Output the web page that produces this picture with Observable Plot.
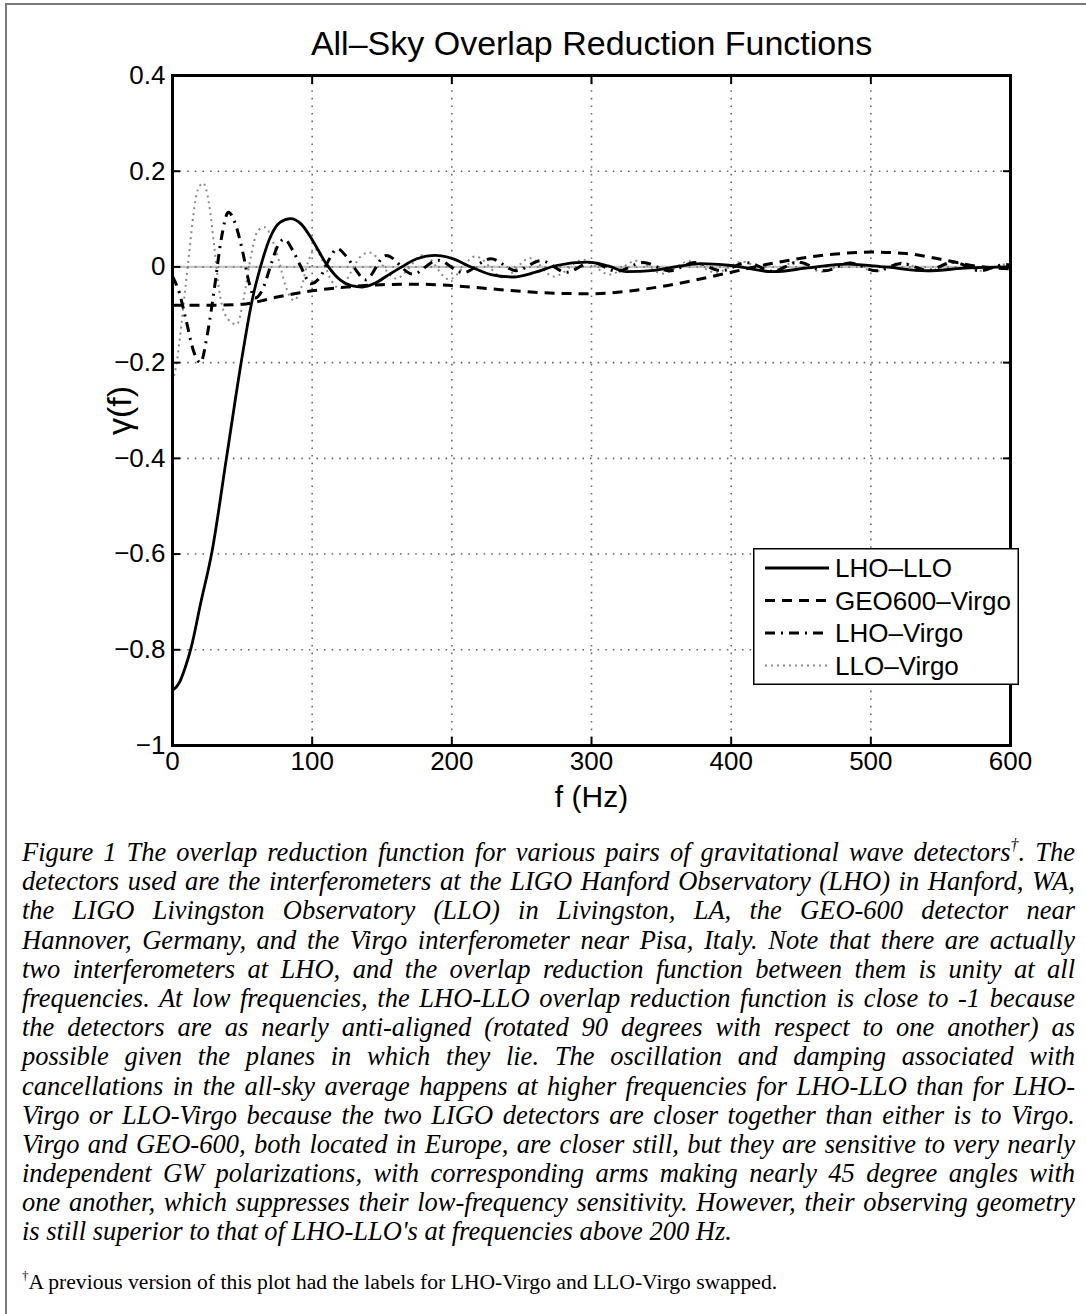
<!DOCTYPE html>
<html>
<head>
<meta charset="utf-8">
<script src="https://cdn.jsdelivr.net/npm/d3@7"></script>
<script src="https://cdn.jsdelivr.net/npm/@observablehq/plot@0.6"></script>
<style>
html, body { margin: 0; padding: 0; background: #fff; }
#page { position: relative; width: 1086px; height: 1314px; overflow: hidden; background: #fff; }
#border { position: absolute; left: 5px; top: 3px; width: 1200px; height: 1400px; border-left: 2px solid #7a7a7a; border-top: 2px solid #7a7a7a; }
#chart { position: absolute; left: 0; top: 0; }
#legend { position: absolute; left: 753px; top: 548px; }
#caption { position: absolute; left: 22px; top: 838px; width: 1053px; font-family: "Liberation Serif", serif; font-style: italic; font-size: 26.5px; line-height: 29.2px; color: #000; }
#caption .ln { white-space: nowrap; height: 29.2px; }
#caption sup, #foot sup { font-size: 60%; line-height: 0; vertical-align: 0.7em; }
#foot { position: absolute; left: 22px; top: 1270px; font-family: "Liberation Serif", serif; font-size: 21.6px; color: #000; white-space: nowrap; }
</style>
</head>
<body>
<div id="page">
  <div id="border"></div>
  <div id="chart"></div>
  <div id="legend"></div>
  <div id="caption"></div>
  <div id="foot"></div>
</div>
<script>
// ---------------- data ----------------
const chartTitle = "All\u2013Sky Overlap Reduction Functions";
const xLabel = "f (Hz)";
const yLabel = "\u03b3(f)";
const xTicks = [0, 100, 200, 300, 400, 500, 600];
const yTicks = [0.4, 0.2, 0, -0.2, -0.4, -0.6, -0.8, -1];

const seriesNames = ["LHO\u2013LLO", "GEO600\u2013Virgo", "LHO\u2013Virgo", "LLO\u2013Virgo"];

const lhoLloF = [0, 5, 9, 13.4, 20, 28.4, 38.7, 49.2, 57, 63, 70, 77, 84.5, 92, 100, 110, 120, 128, 136, 145, 155, 163, 175, 188, 200, 213, 228, 244, 260, 275, 297, 312, 325, 345, 364, 378, 400, 430, 455, 483, 510, 540, 570, 600];
const lhoLloG = [-0.885, -0.868, -0.838, -0.795, -0.705, -0.593, -0.398, -0.199, -0.07, 0.0, 0.062, 0.093, 0.101, 0.09, 0.057, 0.007, -0.027, -0.039, -0.042, -0.034, -0.016, -0.002, 0.017, 0.024, 0.018, 0.001, -0.016, -0.021, -0.011, 0.003, 0.010, 0.002, -0.010, -0.007, 0.002, 0.007, 0.003, -0.010, -0.002, 0.006, 0.0, -0.008, -0.002, 0.0];

const geoVirgoF = [0, 25, 50, 62, 75, 100, 125, 150, 175, 200, 225, 250, 275, 300, 325, 350, 375, 400, 425, 450, 475, 500, 525, 550, 575, 600];
const geoVirgoG = [-0.08, -0.08, -0.078, -0.072, -0.063, -0.05, -0.042, -0.037, -0.036, -0.039, -0.045, -0.051, -0.055, -0.056, -0.051, -0.041, -0.027, -0.011, 0.005, 0.018, 0.027, 0.031, 0.028, 0.016, 0.002, -0.004];

const lhoVirgoF = [0, 5, 10, 15, 20, 25, 30, 35, 40, 45, 50, 55, 59, 64, 70, 75, 80, 86, 92, 99, 106, 112, 118, 125, 131, 138, 153, 172, 190, 208, 228, 246, 264, 282, 300, 318, 337, 356, 374, 393, 411, 430, 448, 467, 485, 504, 522, 541, 559, 578, 596, 600];
const lhoVirgoG = [-0.02, -0.055, -0.115, -0.175, -0.2, -0.14, -0.045, 0.06, 0.114, 0.09, 0.035, -0.035, -0.065, -0.05, 0.0, 0.042, 0.058, 0.035, 0.0, -0.035, -0.02, 0.015, 0.038, 0.02, -0.005, -0.027, 0.024, -0.015, 0.014, -0.012, 0.017, -0.008, 0.013, -0.011, 0.01, -0.009, 0.009, -0.008, 0.009, -0.008, 0.009, -0.009, 0.01, -0.008, 0.008, -0.008, 0.007, -0.007, 0.01, -0.008, 0.005, 0.003];

const lloVirgoF = [0, 3, 6, 9, 12, 15, 18, 22, 26, 30, 34, 40, 46, 51, 56, 61, 66, 71, 76, 81, 87, 92, 97, 102, 108, 114, 120, 127, 134, 141, 160, 180, 198, 217, 237, 256, 273, 294, 313, 332, 351, 370, 389, 408, 427, 446, 465, 484, 503, 522, 541, 560, 579, 598, 600];
const lloVirgoG = [-0.24, -0.2, -0.13, -0.05, 0.03, 0.11, 0.16, 0.175, 0.135, 0.04, -0.06, -0.11, -0.12, -0.065, 0.02, 0.075, 0.083, 0.06, 0.015, -0.04, -0.07, -0.045, 0.01, 0.037, 0.01, -0.03, -0.045, -0.015, 0.02, 0.03, -0.024, 0.025, -0.026, 0.022, -0.022, 0.018, -0.02, 0.015, -0.016, 0.013, -0.014, 0.012, -0.012, 0.011, -0.011, 0.01, -0.01, 0.01, -0.009, 0.009, -0.009, 0.009, -0.008, 0.006, 0.005];

const captionLines = [
  "Figure 1 The overlap reduction function for various pairs of gravitational wave detectors\u2020.  The",
  "detectors used are the interferometers at the LIGO Hanford Observatory (LHO) in Hanford, WA,",
  "the LIGO Livingston Observatory (LLO) in Livingston, LA, the GEO-600 detector near",
  "Hannover, Germany, and the Virgo interferometer near Pisa, Italy. Note that there are actually",
  "two interferometers at LHO, and the overlap reduction function between them is unity at all",
  "frequencies. At low frequencies, the LHO-LLO overlap reduction function is close to -1 because",
  "the detectors are as nearly anti-aligned (rotated 90 degrees with respect to one another) as",
  "possible given the planes in which they lie. The oscillation and damping associated with",
  "cancellations in the all-sky average happens at higher frequencies for LHO-LLO than for LHO-",
  "Virgo or LLO-Virgo because the two LIGO detectors are closer together than either is to Virgo.",
  "Virgo and GEO-600, both located in Europe, are closer still, but they are sensitive to very nearly",
  "independent GW polarizations, with corresponding arms making nearly 45 degree angles with",
  "one another, which suppresses their low-frequency sensitivity. However, their observing geometry",
  "is still superior to that of LHO-LLO's at frequencies above 200 Hz."
];
const footnote = "\u2020A previous version of this plot had the labels for LHO-Virgo and LLO-Virgo swapped.";

// ---------------- styles per series ----------------
const seriesStyle = [
  {stroke: "#000", strokeWidth: 2.8, dash: null},
  {stroke: "#000", strokeWidth: 3, dash: "10,7"},
  {stroke: "#000", strokeWidth: 3, dash: "10,6,2,6"},
  {stroke: "#8a8a8a", strokeWidth: 2, dash: "2,4"}
];

function toRows(fs, gs, name) { return fs.map((f, i) => ({f, g: gs[i], series: name})); }
const seriesRows = [
  toRows(lhoLloF, lhoLloG, seriesNames[0]),
  toRows(geoVirgoF, geoVirgoG, seriesNames[1]),
  toRows(lhoVirgoF, lhoVirgoG, seriesNames[2]),
  toRows(lloVirgoF, lloVirgoG, seriesNames[3])
];

const fmt = d => String(d).replace("-", "\u2212");
const drawOrder = [3, 2, 1, 0];

const chart = Plot.plot({
  width: 1086,
  height: 820,
  marginLeft: 172,
  marginRight: 76,
  marginTop: 75,
  marginBottom: 75,
  x: {domain: [0, 600]},
  y: {domain: [-1, 0.4]},
  style: {fontFamily: "'Liberation Sans', Arial, sans-serif", fontSize: "26px", color: "#000", background: "transparent", overflow: "visible"},
  marks: [
    Plot.ruleY([0], {stroke: "#c4c4c4", strokeWidth: 2.2}),
    Plot.gridX(xTicks.slice(1, -1), {stroke: "#6a6a6a", strokeOpacity: 1, strokeWidth: 1.6, strokeDasharray: "1.6,6"}),
    Plot.gridY(yTicks.slice(1, -1), {stroke: "#6a6a6a", strokeOpacity: 1, strokeWidth: 1.6, strokeDasharray: "1.6,6"}),
    ...drawOrder.map(i => Plot.line(seriesRows[i], {
      x: "f", y: "g", curve: "monotone-x",
      stroke: seriesStyle[i].stroke, strokeWidth: seriesStyle[i].strokeWidth,
      strokeDasharray: seriesStyle[i].dash, strokeLinecap: "butt"
    })),
    Plot.axisX(xTicks, {anchor: "bottom", tickSize: -8, tickPadding: 14, strokeWidth: 2, tickFormat: fmt, fontSize: 26, label: null}),
    Plot.axisX(xTicks, {anchor: "top", tickSize: -8, strokeWidth: 2, tickFormat: () => "", label: null}),
    Plot.axisY(yTicks, {anchor: "left", tickSize: -8, tickPadding: 15, strokeWidth: 2, tickFormat: fmt, fontSize: 26, label: null}),
    Plot.axisY(yTicks, {anchor: "right", tickSize: -8, strokeWidth: 2, tickFormat: () => "", label: null}),
    Plot.frame({stroke: "#000", strokeWidth: 3}),
    Plot.text([chartTitle], {frameAnchor: "top", dy: -31, text: d => d, fontSize: 34, lineAnchor: "middle"}),
    Plot.text([xLabel], {frameAnchor: "bottom", dy: 52, text: d => d, fontSize: 30, lineAnchor: "middle"}),
    Plot.text([yLabel], {frameAnchor: "left", dx: -52, rotate: -90, text: d => d, fontSize: 34, textAnchor: "middle", lineAnchor: "middle"})
  ]
});
document.getElementById("chart").appendChild(chart);

// ---------------- legend ----------------
const lw = 266, lh = 137;
const leg = d3.select("#legend").append("svg").attr("width", lw).attr("height", lh)
  .style("font-family", "'Liberation Sans', Arial, sans-serif");
leg.append("rect").attr("x", 0.75).attr("y", 0.75).attr("width", lw - 1.5).attr("height", lh - 1.5)
  .attr("fill", "#fff").attr("stroke", "#000").attr("stroke-width", 1.5);
seriesNames.forEach((name, i) => {
  const cy = 20 + i * 32.5;
  const s = seriesStyle[i];
  leg.append("line").attr("x1", 12).attr("x2", 76).attr("y1", cy).attr("y2", cy)
    .attr("stroke", s.stroke).attr("stroke-width", s.strokeWidth)
    .attr("stroke-dasharray", s.dash);
  leg.append("text").attr("x", 82).attr("y", cy).attr("dy", "0.35em")
    .attr("font-size", 26).text(name);
});

// ---------------- caption (each line justified to the full width) ----------------
const cap = document.getElementById("caption");
const target = 1053;
captionLines.forEach((t, i) => {
  const d = document.createElement("div");
  d.className = "ln";
  const span = document.createElement("span");
  span.innerHTML = t.replace(/\s+/g, " ").replace("\u2020", "<sup>\u2020</sup>");
  d.appendChild(span);
  cap.appendChild(d);
  if (i < captionLines.length - 1) {
    const w = span.getBoundingClientRect().width;
    const n = (t.replace(/\s+/g, " ").match(/ /g) || []).length;
    if (n > 0) span.style.wordSpacing = ((target - w) / n) + "px";
  }
});
document.getElementById("foot").innerHTML = footnote.replace("\u2020", "<sup>\u2020</sup>");
</script>
</body>
</html>
